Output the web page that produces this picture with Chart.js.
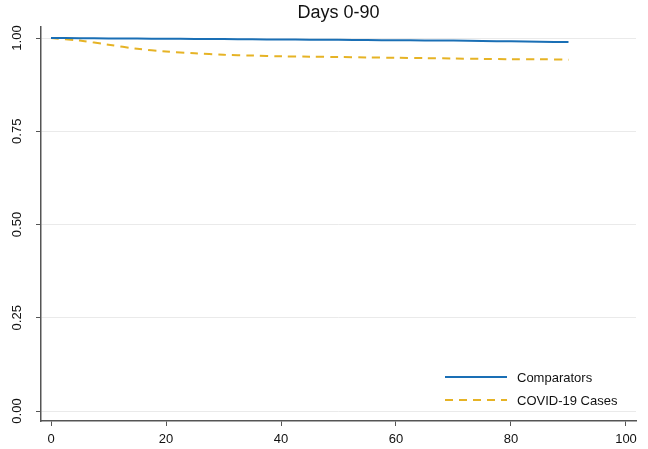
<!DOCTYPE html>
<html>
<head>
<meta charset="utf-8">
<script src="https://cdn.jsdelivr.net/npm/chart.js@4/dist/chart.umd.min.js"></script>
<style>
html,body{margin:0;padding:0;background:#fff;}
#wrap{width:648px;height:449px;}
</style>
</head>
<body>
<div id="wrap"><canvas id="c" width="648" height="449"></canvas></div>
<script>
const titleText = "Days 0-90";
const days = [0,5,10,15,20,25,30,35,40,45,50,55,60,65,70,75,80,85,90];
const comparators = [1.000,0.9995,0.999,0.9985,0.998,0.9975,0.997,0.9965,0.996,0.9955,0.995,0.9945,0.994,0.9935,0.993,0.992,0.991,0.990,0.989];
const covidCases = [1.000,0.993,0.982,0.971,0.964,0.959,0.955,0.953,0.951,0.950,0.949,0.948,0.947,0.946,0.945,0.944,0.943,0.943,0.942];
const xTicks = [0,20,40,60,80,100];
const yTicks = [0,0.25,0.5,0.75,1.0];
const seriesNames = ["Comparators","COVID-19 Cases"];

const FONT = "'Liberation Sans', Arial, sans-serif";
const axisColor = '#555555';

const legendPlugin = {
  id: 'insideLegend',
  afterDatasetsDraw(chart) {
    const ctx = chart.ctx;
    const rows = [377, 400];
    chart.data.datasets.forEach((ds, i) => {
      const y = rows[i];
      ctx.save();
      ctx.strokeStyle = ds.borderColor;
      ctx.lineWidth = 2;
      ctx.setLineDash(ds.borderDash || []);
      ctx.beginPath();
      ctx.moveTo(445, y);
      ctx.lineTo(507, y);
      ctx.stroke();
      ctx.setLineDash([]);
      ctx.fillStyle = '#111';
      ctx.font = "13px " + FONT;
      ctx.textBaseline = 'middle';
      ctx.textAlign = 'left';
      ctx.fillText(ds.label, 517, y + 1);
      ctx.restore();
    });
  }
};

new Chart(document.getElementById('c'), {
  type: 'line',
  data: {
    datasets: [
      {
        label: seriesNames[0],
        data: days.map((d, i) => ({x: d, y: comparators[i]})),
        borderColor: '#1a6fb5',
        borderWidth: 2,
        pointRadius: 0,
        tension: 0.2,
        fill: false
      },
      {
        label: seriesNames[1],
        data: days.map((d, i) => ({x: d, y: covidCases[i]})),
        borderColor: '#e6b325',
        borderWidth: 2,
        borderDash: [8, 6],
        pointRadius: 0,
        tension: 0.3,
        fill: false
      }
    ]
  },
  options: {
    responsive: false,
    animation: false,
    devicePixelRatio: 1,
    layout: { padding: { left: 0, right: 12, top: 0, bottom: 0 } },
    plugins: {
      legend: { display: false },
      tooltip: { enabled: false },
      title: {
        display: true,
        text: titleText,
        fullSize: false,
        color: '#111',
        font: { family: FONT, size: 18, weight: 'normal' },
        padding: { top: 2.5, bottom: 2.9 }
      }
    },
    scales: {
      x: {
        type: 'linear',
        min: -1.74,
        max: 101.74,
        afterBuildTicks(scale) { scale.ticks = xTicks.map(v => ({value: v})); },
        afterFit(scale) { scale.height = 28; },
        grid: {
          display: true,
          drawOnChartArea: false,
          drawTicks: true,
          tickLength: 5,
          tickColor: axisColor,
          color: axisColor
        },
        border: { display: true, color: axisColor, width: 1.5 },
        ticks: {
          color: '#111',
          font: { family: FONT, size: 13 },
          padding: 6,
          maxRotation: 0,
          minRotation: 0,
          callback: v => String(v)
        }
      },
      y: {
        type: 'linear',
        min: -0.0268,
        max: 1.0295,
        afterBuildTicks(scale) { scale.ticks = yTicks.map(v => ({value: v})); },
        afterFit(scale) { scale.width = 41; },
        grid: {
          display: true,
          drawOnChartArea: true,
          drawTicks: true,
          tickLength: 5,
          tickColor: axisColor,
          color: '#eaeaea',
          lineWidth: 1
        },
        border: { display: true, color: axisColor, width: 1.5 },
        ticks: {
          color: '#111',
          font: { family: FONT, size: 13 },
          padding: 6,
          minRotation: 90,
          maxRotation: 90,
          crossAlign: 'center',
          callback: v => v.toFixed(2)
        }
      }
    }
  },
  plugins: [legendPlugin]
});
</script>
</body>
</html>
